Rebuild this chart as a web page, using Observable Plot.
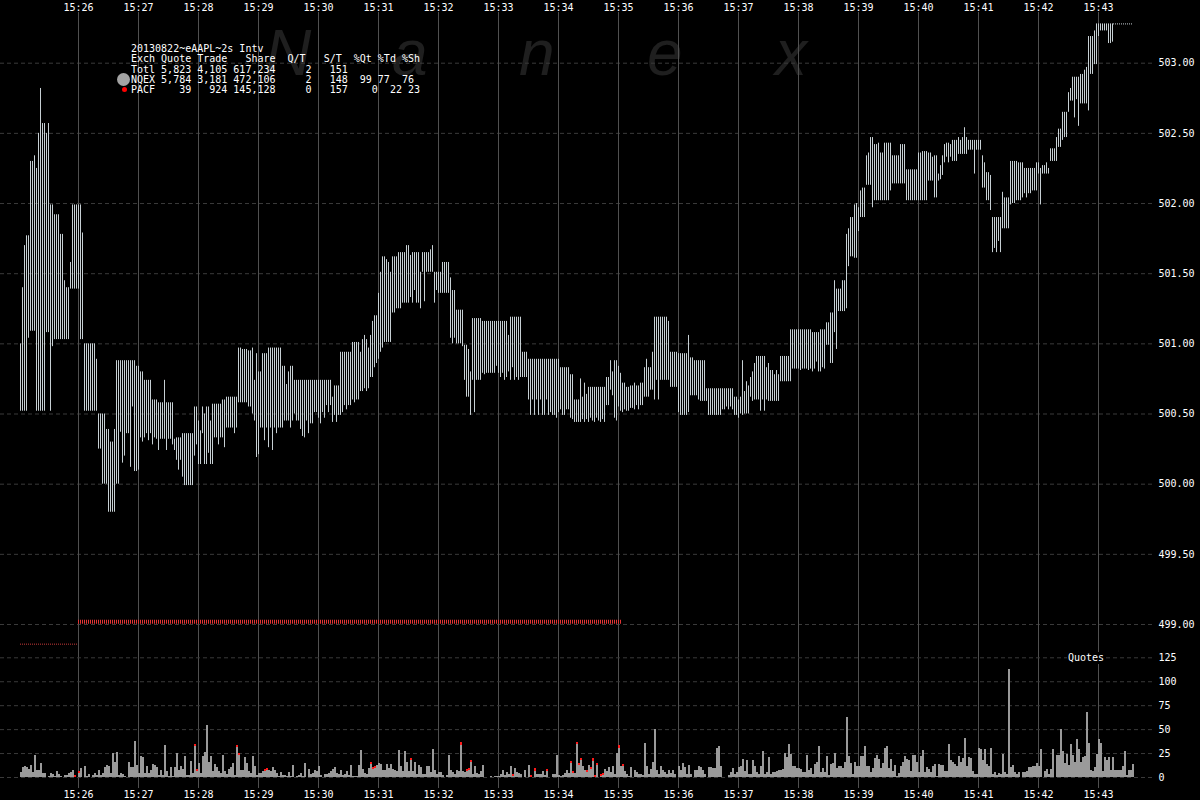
<!DOCTYPE html>
<html><head><meta charset="utf-8">
<script src="https://cdn.jsdelivr.net/npm/d3@7"></script>
<script src="https://cdn.jsdelivr.net/npm/@observablehq/plot@0.6"></script>
<style>
html,body{margin:0;padding:0;background:#000;}
#chart{position:relative;width:1200px;height:800px;background:#000;overflow:hidden;}
#chart svg{position:absolute;left:0;top:0;}
.wm{position:absolute;top:21px;font:italic 64px "Liberation Sans",Arial,sans-serif;color:#1f1f1f;line-height:64px;}
#legend{position:absolute;left:131px;top:44px;margin:0;font:10px "DejaVu Sans Mono",monospace;line-height:10.3px;color:#fff;white-space:pre;}
.dot{position:absolute;border-radius:50%;}
#qlabel{position:absolute;left:1067px;top:652px;font:10px "DejaVu Sans Mono",monospace;line-height:12px;color:#fff;background:#000;padding:0 1px;}
</style></head>
<body><div id="chart"></div>
<script>
// ---------- data ----------
const tradeDate = [2013, 7, 22];
const minuteLabels = ["15:26","15:27","15:28","15:29","15:30","15:31","15:32","15:33","15:34","15:35","15:36","15:37","15:38","15:39","15:40","15:41","15:42","15:43"];
const priceTicks = [499, 499.5, 500, 500.5, 501, 501.5, 502, 502.5, 503];
const quoteTicks = [0, 25, 50, 75, 100, 125];
const barStart = "15:25:02";   // first 2-second interval
const barSeconds = 2;

const highs = [
501.00,501.40,501.70,501.77,501.77,502.30,502.30,502.34,502.25,502.50,
502.82,502.57,502.57,502.50,502.57,501.99,501.99,501.92,501.92,501.92,
501.78,501.78,501.45,501.40,501.40,501.58,501.99,501.99,501.99,501.99,
501.99,501.79,501.00,501.00,501.00,501.00,501.00,501.00,500.89,500.50,
500.50,500.50,500.50,500.39,500.39,500.30,500.30,500.39,500.88,500.88,
500.88,500.88,500.88,500.88,500.88,500.88,500.88,500.88,500.84,500.84,
500.80,500.80,500.74,500.74,500.74,500.74,500.60,500.60,500.60,500.58,
500.58,500.58,500.74,500.58,500.58,500.58,500.58,500.32,500.33,500.33,
500.33,500.36,500.36,500.36,500.36,500.36,500.36,500.55,500.55,500.45,
500.38,500.55,500.50,500.55,500.55,500.45,500.57,500.57,500.57,500.57,
500.57,500.60,500.60,500.62,500.62,500.62,500.62,500.62,500.62,500.97,
500.97,500.96,500.96,500.96,500.95,500.95,500.97,500.74,500.93,500.80,
500.80,500.93,500.93,500.93,500.97,500.97,500.97,500.97,500.97,500.97,
500.97,500.84,500.84,500.71,500.80,500.84,500.84,500.74,500.74,500.74,
500.74,500.74,500.74,500.74,500.74,500.74,500.74,500.74,500.74,500.74,
500.74,500.74,500.74,500.74,500.74,500.74,500.62,500.70,500.70,500.70,
500.94,500.94,500.94,500.94,500.94,500.94,501.01,501.01,501.01,501.01,
500.94,501.03,501.06,501.03,500.97,501.06,501.16,501.20,501.20,501.36,
501.51,501.62,501.62,501.60,501.58,501.51,501.62,501.62,501.62,501.65,
501.65,501.65,501.65,501.70,501.70,501.63,501.65,501.65,501.65,501.65,
501.51,501.65,501.65,501.65,501.65,501.67,501.70,501.51,501.51,501.51,
501.51,501.58,501.58,501.58,501.58,501.47,501.38,501.38,501.24,501.24,
501.24,501.24,500.99,500.99,500.96,500.80,501.18,501.18,501.18,501.18,
501.18,501.16,501.16,501.16,501.16,501.16,501.16,501.16,501.16,501.16,
501.16,501.16,501.16,501.16,501.06,501.19,501.19,501.19,501.19,501.19,
501.19,500.94,500.94,500.94,500.89,500.89,500.89,500.89,500.89,500.89,
500.89,500.89,500.89,500.89,500.89,500.89,500.89,500.89,500.89,500.89,
500.83,500.83,500.83,500.83,500.83,500.78,500.78,500.60,500.60,500.60,
500.75,500.62,500.72,500.64,500.69,500.69,500.69,500.69,500.69,500.69,
500.69,500.69,500.69,500.76,500.76,500.88,500.80,500.88,500.88,500.84,
500.79,500.72,500.72,500.69,500.69,500.70,500.70,500.72,500.70,500.70,
500.72,500.72,500.83,500.89,500.83,500.83,500.94,501.19,501.19,501.19,
501.19,501.19,501.19,501.19,501.16,500.94,500.94,500.94,500.94,500.93,
500.93,500.93,500.93,500.93,501.06,500.90,500.90,500.88,500.88,500.88,
500.88,500.88,500.88,500.68,500.68,500.68,500.68,500.68,500.68,500.68,
500.68,500.68,500.68,500.68,500.68,500.68,500.68,500.62,500.62,500.60,
500.62,500.88,500.66,500.73,500.70,500.76,500.80,500.86,500.91,500.91,
500.91,500.91,500.91,500.83,500.86,500.81,500.81,500.78,500.81,500.78,
500.91,500.91,500.91,500.91,500.91,501.10,501.10,501.10,501.10,501.10,
501.10,501.10,501.10,501.10,501.10,501.10,501.08,501.08,501.08,501.08,
501.10,501.10,501.10,501.15,501.15,501.22,501.22,501.45,501.39,501.39,
501.39,501.45,501.45,501.78,501.82,501.90,501.90,501.99,502.00,501.97,
502.09,502.11,502.11,502.34,502.36,502.47,502.47,502.42,502.42,502.43,
502.36,502.36,502.43,502.43,502.43,502.43,502.34,502.34,502.34,502.34,
502.42,502.42,502.42,502.24,502.24,502.24,502.24,502.24,502.24,502.36,
502.36,502.37,502.37,502.37,502.36,502.36,502.33,502.34,502.34,502.21,
502.27,502.34,502.42,502.43,502.43,502.42,502.45,502.45,502.45,502.47,
502.45,502.47,502.54,502.47,502.45,502.45,502.45,502.45,502.45,502.45,
502.45,502.34,502.29,502.22,502.22,502.20,501.90,501.90,501.90,501.90,
501.90,502.08,502.04,502.04,502.04,502.30,502.30,502.30,502.30,502.29,
502.29,502.29,502.25,502.25,502.25,502.25,502.25,502.25,502.29,502.29,
502.25,502.27,502.27,502.29,502.25,502.39,502.39,502.39,502.47,502.53,
502.53,502.65,502.65,502.65,502.79,502.82,502.90,502.90,502.90,502.90,
502.92,502.92,502.95,502.97,503.19,503.19,503.19,503.23,503.28,503.28,
503.28,503.28,503.28,503.28,503.28,503.28,503.28];

const lows = [
500.52,500.52,500.52,500.52,501.04,501.09,501.09,501.09,500.52,500.52,
500.52,500.52,500.52,501.08,501.08,500.52,500.98,501.03,501.03,501.03,
501.03,501.03,501.03,501.03,501.03,501.39,501.39,501.39,501.39,501.39,
501.03,501.03,500.52,500.52,500.52,500.52,500.52,500.52,500.52,500.25,
500.25,500.00,500.00,500.00,499.80,499.80,499.80,499.80,500.00,500.00,
500.37,500.15,500.20,500.36,500.36,500.12,500.55,500.09,500.09,500.10,
500.33,500.30,500.33,500.36,500.31,500.36,500.28,500.33,500.32,500.24,
500.32,500.32,500.32,500.24,500.32,500.32,500.28,500.24,500.17,500.10,
500.17,500.05,499.99,499.99,499.99,499.99,499.99,500.20,500.28,500.14,
500.14,500.36,500.14,500.14,500.22,500.14,500.14,500.33,500.33,500.28,
500.33,500.33,500.26,500.40,500.40,500.40,500.40,500.36,500.40,500.58,
500.58,500.58,500.58,500.58,500.55,500.55,500.50,500.45,500.19,500.21,
500.40,500.40,500.31,500.40,500.26,500.40,500.24,500.40,500.36,500.40,
500.40,500.40,500.45,500.45,500.45,500.40,500.45,500.50,500.45,500.45,
500.39,500.34,500.33,500.45,500.36,500.43,500.43,500.51,500.51,500.47,
500.43,500.51,500.47,500.56,500.51,500.56,500.44,500.49,500.44,500.49,
500.49,500.51,500.56,500.53,500.56,500.56,500.60,500.58,500.60,500.60,
500.66,500.66,500.68,500.66,500.68,500.76,500.76,500.83,500.86,500.89,
500.94,500.97,501.01,501.01,501.01,501.01,501.22,501.22,501.25,501.25,
501.25,501.29,501.29,501.29,501.29,501.33,501.29,501.38,501.29,501.29,
501.25,501.51,501.30,501.51,501.51,501.51,501.51,501.29,501.38,501.36,
501.36,501.36,501.36,501.36,501.36,501.04,501.00,501.04,501.00,501.00,
501.00,500.98,500.74,500.62,500.62,500.49,500.74,500.51,500.74,500.74,
500.74,500.79,500.78,500.79,500.79,500.79,500.79,500.79,500.84,500.79,
500.76,500.79,500.74,500.76,500.80,500.74,500.83,500.74,500.76,500.74,
500.76,500.76,500.76,500.76,500.60,500.49,500.60,500.49,500.60,500.49,
500.60,500.49,500.49,500.60,500.49,500.51,500.49,500.49,500.47,500.51,
500.53,500.49,500.49,500.53,500.53,500.47,500.46,500.44,500.44,500.44,
500.44,500.46,500.44,500.46,500.44,500.47,500.45,500.44,500.47,500.45,
500.44,500.46,500.44,500.56,500.56,500.67,500.63,500.47,500.45,500.55,
500.52,500.51,500.53,500.52,500.52,500.54,500.54,500.53,500.56,500.53,
500.56,500.56,500.62,500.62,500.62,500.67,500.67,500.60,500.74,500.60,
500.74,500.74,500.74,500.74,500.74,500.69,500.69,500.69,500.69,500.51,
500.49,500.49,500.49,500.49,500.51,500.63,500.63,500.63,500.63,500.60,
500.59,500.59,500.59,500.59,500.49,500.49,500.49,500.49,500.49,500.49,
500.49,500.53,500.53,500.55,500.53,500.55,500.53,500.49,500.49,500.47,
500.50,500.49,500.50,500.50,500.50,500.62,500.59,500.60,500.60,500.60,
500.52,500.60,500.52,500.60,500.59,500.59,500.59,500.59,500.59,500.59,
500.73,500.73,500.73,500.73,500.73,500.73,500.82,500.82,500.82,500.82,
500.81,500.82,500.82,500.82,500.81,500.82,500.80,500.82,500.87,500.80,
500.80,500.83,500.82,500.99,500.99,500.86,500.86,501.08,500.96,501.23,
501.23,501.23,501.23,501.25,501.55,501.62,501.62,501.61,501.61,501.80,
501.90,501.90,501.90,502.13,502.13,502.13,501.97,502.02,502.02,502.02,
502.02,502.02,502.02,502.02,502.02,502.09,502.14,502.14,502.14,502.14,
502.14,502.14,502.14,502.02,502.02,502.02,502.02,502.02,502.02,502.02,
502.02,502.02,502.02,502.02,502.16,502.16,502.16,502.04,502.04,502.16,
502.17,502.20,502.29,502.33,502.29,502.33,502.30,502.30,502.30,502.35,
502.35,502.35,502.35,502.35,502.38,502.38,502.38,502.21,502.38,502.38,
502.38,502.11,502.11,502.02,502.02,501.95,501.65,501.68,501.65,501.73,
501.65,501.82,501.82,501.82,501.82,501.99,502.00,502.00,502.02,502.02,
502.02,502.04,502.07,502.04,502.07,502.07,502.09,502.09,502.09,502.21,
501.99,502.21,502.21,502.21,502.21,502.30,502.30,502.30,502.30,502.40,
502.40,502.45,502.47,502.47,502.65,502.73,502.73,502.61,502.74,502.55,
502.71,502.71,502.71,502.71,502.66,502.92,502.92,502.99,502.99,503.19,
503.23,503.23,503.23,503.23,503.14,503.14,503.15];

// quotes per 2s interval (all exchanges)
const quotes = [
5,10,11,10,8,13,5,23,7,7, 15,4,4,0,1,4,3,1,6,3, 1,0,2,2,4,5,7,1,0,5, 9,0,12,1,3,0,2,4,2,7,
2,4,10,13,11,4,25,16,26,2, 4,3,1,0,16,10,10,38,13,4, 22,21,4,11,4,7,14,13,10,2, 7,2,33,6,1,10,1,10,25,7,
12,8,22,2,2,17,4,33,7,15, 4,22,26,54,16,22,6,14,10,6, 4,23,6,3,8,10,15,2,32,24, 7,7,21,15,6,4,22,12,2,4,
4,6,7,8,7,6,10,7,4,1, 5,2,2,1,5,1,13,0,1,2, 4,1,15,0,8,3,4,7,6,12, 2,0,3,3,4,6,8,10,4,3,
7,2,3,6,2,13,1,1,1,13, 28,8,4,3,9,15,9,10,13,15, 14,7,7,14,9,14,8,7,6,28, 12,6,27,16,6,19,6,16,3,13,
10,3,3,11,11,5,29,7,3,5, 5,2,0,2,23,7,5,3,7,6, 35,6,5,7,8,17,3,11,4,3, 6,13,0,0,0,1,0,1,1,1,
3,7,2,5,3,12,2,9,5,4, 3,0,7,0,13,1,0,8,3,3, 3,6,2,7,0,0,3,3,23,2, 1,2,4,7,4,16,5,4,35,14,
19,11,7,6,13,9,19,1,14,0, 2,3,8,6,10,5,12,3,25,32, 11,13,6,3,1,10,0,7,5,3, 3,2,35,12,3,8,16,50,7,3,
12,7,5,3,7,4,7,3,0,11, 7,15,10,3,13,3,0,7,7,12, 10,7,3,0,10,10,9,9,30,32, 12,0,0,0,2,5,9,3,5,10,
12,19,6,18,3,3,18,12,5,3, 11,27,3,5,21,3,5,5,6,7, 7,8,25,21,34,24,12,11,9,9, 8,5,5,23,7,9,3,14,16,32,
5,9,5,22,2,14,15,25,9,11, 12,9,16,63,22,15,3,16,11,11, 22,22,32,12,11,5,9,20,23,19, 9,15,30,32,9,19,6,13,1,4,
11,16,22,19,18,6,23,23,16,5, 22,28,5,10,8,5,12,14,1,14, 13,13,6,6,34,18,16,14,12,22, 16,20,41,11,21,20,6,3,3,30,
29,18,29,14,11,30,3,5,2,4, 3,24,5,3,113,10,13,5,3,5, 0,5,5,6,10,10,11,12,15,12, 29,0,6,8,3,8,29,0,23,23,
50,27,15,24,13,34,23,16,40,29, 16,21,22,68,35,7,6,10,24,40, 36,6,21,18,21,7,21,7,7,7, 7,11,27,2,7,7,14];

// PACF share of quotes (interval index, count) drawn in red on top
const pacfBars   = [27,29,87,88,108,109,122,123,175,176,177,195,220,223,224,225,246,255,257,263,275,276,278,279,280,283,285,286,287,288,290,291,299,301];
const pacfCounts = [1,1,1,1,1,1,1,1,1,1,1,1,2,1,1,1,1,1,2,1,1,1,1,1,1,1,1,2,1,1,1,1,2,1];

// quote lines (start, end, price)
const pacfEarlyLine = {start:"15:25:02", end:"15:26:00", price:498.86};
const pacfQuoteLine = {start:"15:26:00", end:"15:35:04", price:499.019};
const lastQuoteLine = {start:"15:43:15", end:"15:43:35", price:503.28};

// ---------- build ----------
const T = s => { const p = s.split(":").map(Number); return new Date(Date.UTC(tradeDate[0], tradeDate[1], tradeDate[2], p[0], p[1], p[2] || 0)); };
const t0 = T(barStart).getTime();
const step = barSeconds * 1000;
const n = Math.min(highs.length, lows.length);
const bars = d3.range(n).map(i => ({time: new Date(t0 + i*step), high: highs[i], low: lows[i]}));
const pacfMap = new Map(pacfBars.map((b, k) => [b, pacfCounts[k]]));
const qbars = quotes.map((q, i) => {
  const p = Math.min(pacfMap.get(i) || 0, q);
  return {time: new Date(t0 + i*step), end: new Date(t0 + (i+1)*step), total: q, nqex: q - p, pacf: p};
});
const pbars = qbars.filter(d => d.pacf > 0);
const minuteTicks = minuteLabels.map(T);
const fmt = d3.utcFormat("%H:%M");
const lineRec = o => [{start: T(o.start), end: T(o.end), price: o.price}];

const xScale = {type: "utc", domain: [minuteTicks[0], minuteTicks[minuteTicks.length-1]], range: [78, 1098], axis: null};
const baseStyle = {background: "transparent", color: "#fff", fontFamily: "'DejaVu Sans Mono', monospace", fontSize: "10px", overflow: "visible"};
const dash = {stroke: "#3a3a3a", strokeOpacity: 1, strokeDasharray: "4,3"};

const priceChart = Plot.plot({
  width: 1200, height: 800, marginTop: 12, marginBottom: 12, marginLeft: 0, marginRight: 45,
  style: baseStyle,
  x: xScale,
  y: {domain: [499, 503], range: [624, 62.7], axis: null},
  marks: [
    Plot.gridY(priceTicks, dash),
    Plot.gridX(minuteTicks, {stroke: "#505050", strokeOpacity: 1}),
    Plot.axisX(minuteTicks, {anchor: "top", tickSize: 0, tickPadding: 2, tickFormat: fmt, label: null}),
    Plot.axisX(minuteTicks, {anchor: "bottom", tickSize: 0, tickPadding: 2, tickFormat: fmt, label: null}),
    Plot.axisY(priceTicks, {anchor: "right", tickSize: 0, tickPadding: 3, tickFormat: d => d.toFixed(2), label: null}),
    Plot.ruleY(lineRec(pacfEarlyLine), {x1: "start", x2: "end", y: "price", stroke: "#c83a3a", strokeWidth: 1, strokeDasharray: "1,1"}),
    Plot.ruleY(lineRec(pacfQuoteLine), {x1: "start", x2: "end", y: "price", stroke: "#e23434", strokeWidth: 4, strokeDasharray: "1,1"}),
    Plot.ruleY(lineRec(lastQuoteLine), {x1: "start", x2: "end", y: "price", stroke: "#c6cfd3", strokeWidth: 1, strokeDasharray: "1,1"}),
    Plot.ruleX(bars, {x: "time", y1: "low", y2: "high", stroke: "#c6cfd3", strokeWidth: 1})
  ]
});

const quoteChart = Plot.plot({
  width: 1200, height: 800, marginTop: 12, marginBottom: 12, marginLeft: 0, marginRight: 45,
  style: baseStyle,
  x: xScale,
  y: {domain: [0, 125], range: [777, 657.3], axis: null},
  marks: [
    Plot.gridY(quoteTicks, dash),
    Plot.axisY(quoteTicks, {anchor: "right", tickSize: 0, tickPadding: 3, label: null}),
    Plot.rect(qbars, {x1: "time", x2: "end", y1: 0, y2: "nqex", fill: "#9a9a9a", inset: 0, shapeRendering: "crispEdges"}),
    Plot.rect(pbars, {x1: "time", x2: "end", y1: "nqex", y2: "total", fill: "#ff1a1a", inset: 0, insetTop: -1, shapeRendering: "crispEdges"})
  ]
});

// ---------- assemble ----------
const chart = document.getElementById("chart");
const wmLetters = ["N", "a", "n", "e", "x"];
const wmLeft = [265, 392, 519, 647, 775];
wmLetters.forEach((ch, k) => {
  const s = document.createElement("div");
  s.className = "wm"; s.textContent = ch; s.style.left = wmLeft[k] + "px";
  chart.appendChild(s);
});
chart.appendChild(priceChart);
chart.appendChild(quoteChart);

const legendRows = [
  "20130822~eAAPL~2s Intv",
  "Exch Quote Trade   Share  Q/T   S/T  %Qt %Td %Sh",
  "Totl 5,823 4,105 617,234     2   151",
  "NQEX 5,784 3,181 472,106     2   148  99 77  76",
  "PACF    39   924 145,128     0   157    0  22 23"
];
const leg = document.createElement("pre");
leg.id = "legend"; leg.textContent = legendRows.join("\n");
chart.appendChild(leg);
const d1 = document.createElement("div");
d1.className = "dot"; Object.assign(d1.style, {left: "117px", top: "72.5px", width: "13px", height: "13px", background: "#a3a3a3"});
chart.appendChild(d1);
const d2 = document.createElement("div");
d2.className = "dot"; Object.assign(d2.style, {left: "122px", top: "87px", width: "5px", height: "5px", background: "#ff0000"});
chart.appendChild(d2);
const ql = document.createElement("div");
ql.id = "qlabel"; ql.textContent = "Quotes";
chart.appendChild(ql);
</script></body></html>
